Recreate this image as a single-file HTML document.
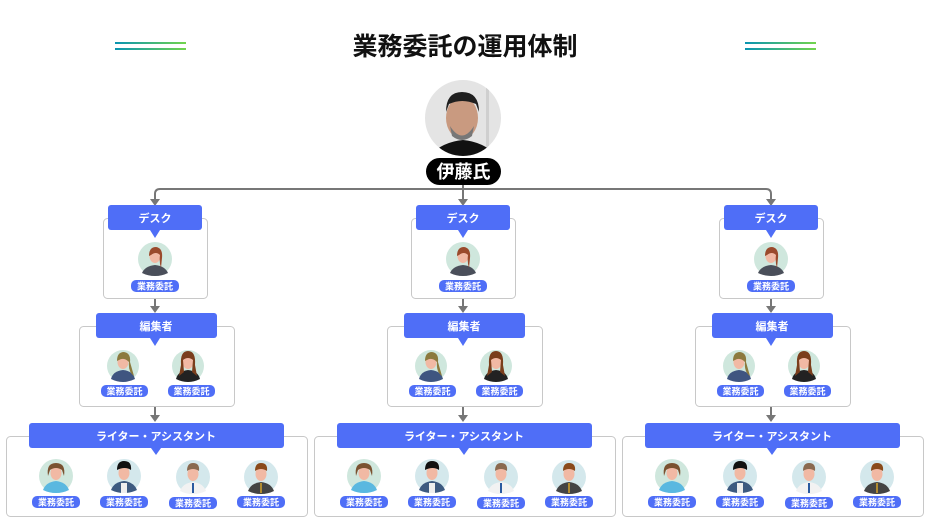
<!DOCTYPE html>
<html><head><meta charset="utf-8"><style>
html,body{margin:0;padding:0;background:#fff;}
svg{display:block;}
text{font-family:"Liberation Sans","Noto Sans CJK JP",sans-serif;font-weight:bold;}
</style></head><body>
<svg width="930" height="525" viewBox="0 0 930 525" xmlns="http://www.w3.org/2000/svg">
<defs>
<linearGradient id="g" x1="0" x2="1"><stop offset="0" stop-color="#0a94b2"/><stop offset="1" stop-color="#72d44c"/></linearGradient>
<clipPath id="pc"><circle cx="463" cy="118" r="38"/></clipPath>
</defs>
<rect x="115" y="42" width="71" height="2" fill="url(#g)"/>
<rect x="115" y="48" width="71" height="2" fill="url(#g)"/>
<rect x="745" y="42" width="71" height="2" fill="url(#g)"/>
<rect x="745" y="48" width="71" height="2" fill="url(#g)"/>
<text x="465" y="55" font-size="25" text-anchor="middle" fill="#111">業務委託の運用体制</text>

<g clip-path="url(#pc)">
<rect x="420" y="75" width="90" height="90" fill="#e4e4e4"/>
<rect x="486" y="80" width="3" height="80" fill="#cfcfcf"/>
<path d="M425 160 Q440 142 463 140 Q486 142 501 160Z" fill="#111"/>
<ellipse cx="462" cy="118" rx="16" ry="21" fill="#c99a80"/>
<path d="M446 112 Q446 92 462 92 Q479 92 479 112 L476 104 Q462 98 449 104Z" fill="#1f1f1f"/>
<path d="M450 126 Q462 145 474 126 L472 136 Q462 144 452 136Z" fill="#777"/>
</g>
<rect x="426" y="158" width="75" height="27" rx="13.5" fill="#000"/>
<text x="463.5" y="178" font-size="18" text-anchor="middle" fill="#fff">伊藤氏</text>

<g fill="none" stroke="#777" stroke-width="2">
<path d="M463 185 V200"/>
<path d="M155 200 V194 Q155 189 160 189 H766 Q771 189 771 194 V200"/>
</g>
<g fill="#777">
<path d="M150 199 L160 199 L155 206Z"/><path d="M458 199 L468 199 L463 206Z"/><path d="M766 199 L776 199 L771 206Z"/>
</g>

<!-- column template repeated -->
<g id="c0">
<rect x="103.5" y="218.5" width="104" height="80" rx="4" fill="#fff" stroke="#c8c8c8"/>
<rect x="108" y="205" width="94" height="25" rx="3" fill="#4f6ef7"/>
<path d="M150 230 L160 230 L155 238Z" fill="#4f6ef7"/>
<text x="155" y="222" font-size="11" text-anchor="middle" fill="#fff">デスク</text>
<circle cx="155" cy="259" r="17" fill="#cfe7dd"/>
<path d="M142 273 Q145 266 155 265 Q165 266 168 273 Q162 276 155 276 Q148 276 142 273Z" fill="#4a4f5a"/>
<ellipse cx="155" cy="256" rx="5.5" ry="7" fill="#f1b9a4"/>
<path d="M149 256 Q149 247 156 247 Q163 248 162 258 L161 268 Q159 262 160 255 Q156 251 151 255Z" fill="#9a4a2c"/>
<rect x="131" y="280" width="48" height="12" rx="5" fill="#4f6ef7"/>
<text x="155" y="289.5" font-size="9" text-anchor="middle" fill="#fff">業務委託</text>
<path d="M155 299 V307" stroke="#777" stroke-width="2"/><path d="M150 306 L160 306 L155 313Z" fill="#777"/>

<rect x="79.5" y="326.5" width="155" height="80" rx="4" fill="#fff" stroke="#c8c8c8"/>
<rect x="96" y="313" width="121" height="25" rx="3" fill="#4f6ef7"/>
<path d="M150 338 L160 338 L155 346Z" fill="#4f6ef7"/>
<text x="156" y="330" font-size="11" text-anchor="middle" fill="#fff">編集者</text>
<circle cx="123" cy="366" r="16" fill="#cfe7dd"/>
<path d="M111 379 Q113 371 123 370 Q133 371 135 379 Q129 382 123 382 Q117 382 111 379Z" fill="#3f5580"/>
<ellipse cx="123" cy="362" rx="5.5" ry="7" fill="#f1b9a4"/>
<path d="M117 361 Q117 352 124 352 Q131 353 130 362 L134 376 Q128 372 129 362 Q124 357 119 360Z" fill="#8c7a3e"/>
<circle cx="188" cy="366" r="16" fill="#cfe7dd"/>
<path d="M176 379 Q178 371 188 370 Q198 371 200 379 Q194 382 188 382 Q182 382 176 379Z" fill="#222"/>
<ellipse cx="188" cy="362" rx="5.5" ry="7" fill="#f1b9a4"/>
<path d="M181 365 Q180 351 188 351 Q196 351 195 365 L197 376 L192 372 L193 360 Q188 356 183 360 L184 372 L179 376Z" fill="#7a3e1c"/>
<rect x="101" y="385" width="47" height="12" rx="5" fill="#4f6ef7"/>
<text x="124.5" y="394.5" font-size="9" text-anchor="middle" fill="#fff">業務委託</text>
<rect x="168" y="385" width="47" height="12" rx="5" fill="#4f6ef7"/>
<text x="191.5" y="394.5" font-size="9" text-anchor="middle" fill="#fff">業務委託</text>
<path d="M155 407 V416" stroke="#777" stroke-width="2"/><path d="M150 415 L160 415 L155 422Z" fill="#777"/>

<rect x="6.5" y="436.5" width="301" height="80" rx="4" fill="#fff" stroke="#c8c8c8"/>
<rect x="29" y="423" width="255" height="25" rx="3" fill="#4f6ef7"/>
<path d="M151 448 L161 448 L156 455Z" fill="#4f6ef7"/>
<text x="156" y="440" font-size="11" text-anchor="middle" fill="#fff">ライター・アシスタント</text>
<circle cx="56" cy="476" r="17" fill="#cfe7dd"/>
<path d="M43 490 Q46 482 56 481 Q66 482 69 490 Q63 493 56 493 Q49 493 43 490Z" fill="#5ab8e0"/>
<ellipse cx="56" cy="473" rx="5.5" ry="7" fill="#f1b9a4"/>
<path d="M48 476 Q46 463 56 463 Q66 463 64 476 L62 470 Q56 466 50 470Z" fill="#7a5230"/>
<circle cx="124" cy="476" r="17" fill="#d4e8ec"/>
<path d="M111 490 Q114 482 124 481 Q134 482 137 490 Q131 493 124 493 Q117 493 111 490Z" fill="#3d5a80"/>
<rect x="121" y="483" width="6" height="10" fill="#eee"/>
<ellipse cx="124" cy="473" rx="5.5" ry="7" fill="#f1b9a4"/>
<path d="M117 470 Q117 461 124 461 Q132 461 131 470 Q125 466 117 470Z" fill="#111"/>
<circle cx="193" cy="477" r="17" fill="#d4e8ec"/>
<path d="M180 491 Q183 483 193 482 Q203 483 206 491 Q200 494 193 494 Q186 494 180 491Z" fill="#f2f2f2"/>
<rect x="192" y="483" width="2" height="10" fill="#2a5aa0"/>
<ellipse cx="193" cy="474" rx="5.5" ry="7" fill="#f1b9a4"/>
<path d="M187 471 Q187 463 193 463 Q200 463 199 471 Q193 467 187 471Z" fill="#8a6a50"/>
<circle cx="261" cy="477" r="17" fill="#d4e8ec"/>
<path d="M248 491 Q251 483 261 482 Q271 483 274 491 Q268 494 261 494 Q254 494 248 491Z" fill="#444"/>
<rect x="260" y="483" width="2" height="10" fill="#b08a30"/>
<ellipse cx="261" cy="474" rx="5.5" ry="7" fill="#f1b9a4"/>
<path d="M255 471 Q255 463 261 463 Q268 463 267 471 Q261 467 255 471Z" fill="#8a4a1a"/>
<rect x="32" y="496" width="48" height="12" rx="5" fill="#4f6ef7"/><text x="56" y="505.5" font-size="9" text-anchor="middle" fill="#fff">業務委託</text>
<rect x="100" y="496" width="48" height="12" rx="5" fill="#4f6ef7"/><text x="124" y="505.5" font-size="9" text-anchor="middle" fill="#fff">業務委託</text>
<rect x="169" y="497" width="48" height="12" rx="5" fill="#4f6ef7"/><text x="193" y="506.5" font-size="9" text-anchor="middle" fill="#fff">業務委託</text>
<rect x="237" y="496" width="48" height="12" rx="5" fill="#4f6ef7"/><text x="261" y="505.5" font-size="9" text-anchor="middle" fill="#fff">業務委託</text>
</g>
<use href="#c0" x="308"/>
<use href="#c0" x="616"/>
</svg>
</body></html>
